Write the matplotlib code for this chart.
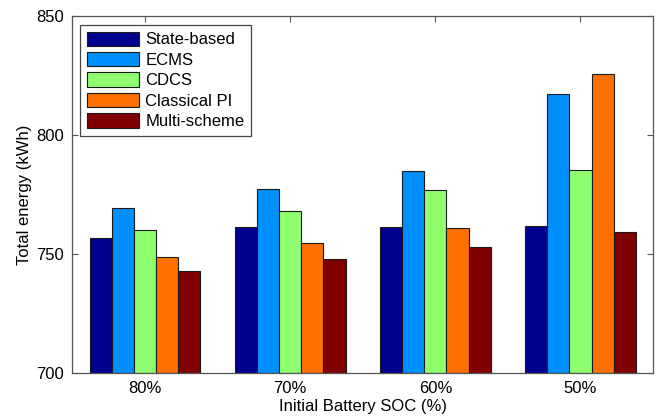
import matplotlib
matplotlib.use("Agg")
import matplotlib.pyplot as plt
import numpy as np

plt.rcParams['font.family'] = ['Liberation Sans', 'DejaVu Sans']

categories = ['80%', '70%', '60%', '50%']
series_names = ['State-based', 'ECMS', 'CDCS', 'Classical PI', 'Multi-scheme']
state_based = [756.7, 761.3, 761.3, 761.8]
ecms = [769.3, 777.2, 785.0, 817.1]
cdcs = [760.0, 768.0, 777.0, 785.2]
classical_pi = [748.6, 754.5, 760.7, 825.5]
multi_scheme = [742.7, 748.0, 753.1, 759.4]
yticks = [700, 750, 800, 850]

values = [state_based, ecms, cdcs, classical_pi, multi_scheme]
colors = ['#00008F', '#008FFF', '#8FFF6F', '#FF7000', '#800000']

fig = plt.figure(figsize=(6.65, 4.19), dpi=100)
ax = fig.add_axes([0.109, 0.11, 0.873, 0.852])

x = np.arange(1, len(categories) + 1)
n = len(values)
group_w = 0.763
bw = group_w / n
for i, (vals, c, name) in enumerate(zip(values, colors, series_names)):
    offs = -group_w / 2 + bw * (i + 0.5)
    ax.bar(x + offs, np.array(vals) - 700, bottom=700, width=bw, color=c,
           edgecolor='#1a1a1a', linewidth=0.8, label=name, zorder=2)

ax.set_xlim(0.5, 4.5)
ax.set_ylim(700, 850)
ax.set_xticks(x)
ax.set_xticklabels(categories)
ax.set_yticks(yticks)
ax.tick_params(direction='in', top=True, right=True, labelsize=12,
               length=4, color='#555555', pad=6)
for s in ax.spines.values():
    s.set_color('#555555')
    s.set_linewidth(0.9)
ax.set_xlabel('Initial Battery SOC (%)', fontsize=12, labelpad=2)
ax.set_ylabel('Total energy (kWh)', fontsize=12, labelpad=3)

leg = ax.legend(loc='upper left', bbox_to_anchor=(0.0138, 0.975), fontsize=12,
                handlelength=3.1, handleheight=0.96, labelspacing=0.27,
                handletextpad=0.4, borderpad=0.4, borderaxespad=0.0,
                fancybox=False, framealpha=1)
leg.get_frame().set_edgecolor('#444444')
leg.get_frame().set_linewidth(0.9)

fig.savefig('out.png', dpi=100)
